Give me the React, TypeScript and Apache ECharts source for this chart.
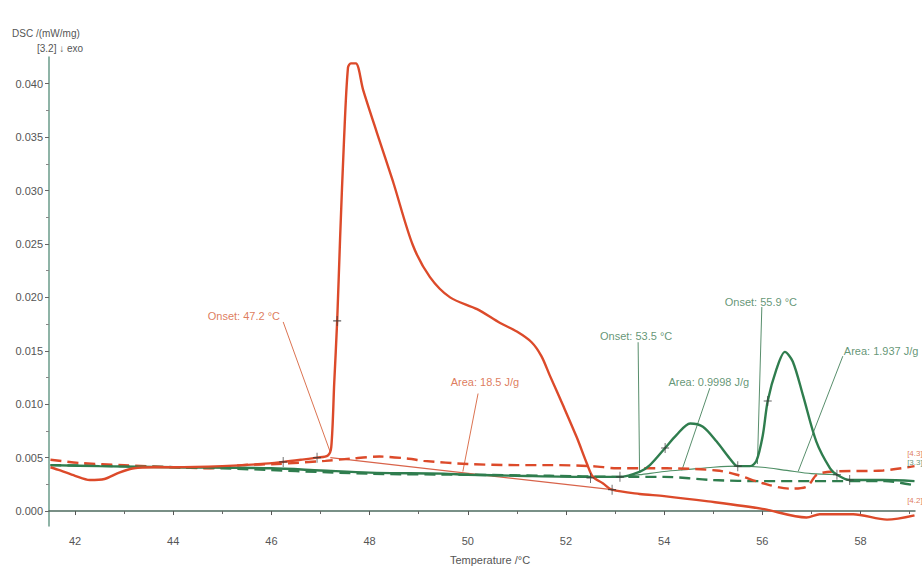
import React, { useEffect, useRef } from "react";
import * as echarts from "echarts";

// Temperature axis ticks (°C)
const tempMajor = [42, 44, 46, 48, 50, 52, 54, 56, 58];
const tempMinor = [43, 45, 47, 49, 51, 53, 55, 57, 59];
// DSC axis ticks (mW/mg)
const dscMajor = [0, 0.005, 0.01, 0.015, 0.02, 0.025, 0.03, 0.035, 0.04];
const dscMinor = [0.0025, 0.0075, 0.0125, 0.0175, 0.0225, 0.0275, 0.0325, 0.0375];

// Sample A, heating (solid red)
const redSolid: [number, number][] = [
  [41.5, 0.0041], [41.7, 0.0038], [42.0, 0.0033], [42.3, 0.0029], [42.6, 0.003], [42.9, 0.0036],
  [43.2, 0.004], [43.6, 0.0041], [44.0, 0.0041], [45.0, 0.0042], [45.8, 0.0044], [46.24, 0.0046],
  [46.6, 0.0048], [46.93, 0.005], [47.15, 0.0052], [47.22, 0.006], [47.28, 0.012], [47.34, 0.0178],
  [47.4, 0.0256], [47.48, 0.0348], [47.56, 0.0415], [47.62, 0.0419], [47.72, 0.0419], [47.87, 0.0394],
  [48.15, 0.0354], [48.48, 0.0308], [48.88, 0.0249], [49.23, 0.0219], [49.64, 0.02], [50.19, 0.0189],
  [50.66, 0.0176], [51.0, 0.0168], [51.3, 0.0158], [51.5, 0.0145], [51.67, 0.0127], [51.94, 0.0099],
  [52.22, 0.0069], [52.43, 0.0044], [52.55, 0.0032], [52.75, 0.0026], [52.94, 0.002], [53.5, 0.0016],
  [54.0, 0.0014], [54.9, 0.0009], [56.0, 0.0002], [56.9, -0.0006], [57.17, -0.0003], [57.85, -0.0003],
  [58.54, -0.0008], [59.1, -0.0004],
];

// Sample A, second run (dashed red)
const redDashed: [number, number][] = [
  [41.5, 0.0048], [42.1, 0.0045], [43.0, 0.0043], [44.0, 0.0041], [44.7, 0.004], [45.4, 0.0043],
  [46.1, 0.0044], [47.1, 0.0047], [47.6, 0.0049], [48.2, 0.0051], [48.8, 0.0049], [49.1, 0.0047],
  [50.0, 0.0044], [51.0, 0.0043], [51.67, 0.0043], [52.55, 0.0042], [53.04, 0.004], [54.06, 0.004],
  [55.07, 0.0038], [55.48, 0.0034], [56.01, 0.0026], [56.56, 0.0021], [56.91, 0.0023], [57.11, 0.0034],
  [57.44, 0.0037], [58.46, 0.0038], [59.1, 0.0042],
];

// Sample B, heating (solid green)
const greenSolid: [number, number][] = [
  [41.5, 0.0043], [42.5, 0.0042], [44.0, 0.0041], [46.0, 0.004], [47.0, 0.0038], [48.0, 0.0036],
  [49.5, 0.0035], [50.0, 0.0034], [51.0, 0.0033], [52.5, 0.0032], [53.1, 0.0032], [53.51, 0.0037],
  [53.71, 0.0043], [54.02, 0.0059], [54.25, 0.0071], [54.53, 0.0082], [54.79, 0.0079], [55.07, 0.0065],
  [55.34, 0.0049], [55.5, 0.0042], [55.75, 0.0042], [55.88, 0.0047], [56.01, 0.0071], [56.11, 0.0103],
  [56.29, 0.0133], [56.46, 0.0149], [56.62, 0.014], [56.83, 0.0108], [57.1, 0.0065], [57.38, 0.004],
  [57.52, 0.0034], [57.78, 0.0029], [58.46, 0.0029], [59.1, 0.0028],
];

// Sample B, second run (dashed green)
const greenDashed: [number, number][] = [
  [41.5, 0.0043], [43.0, 0.0042], [45.0, 0.004], [48.0, 0.0035], [50.0, 0.0034], [51.67, 0.0033],
  [53.0, 0.0032], [54.0, 0.0032], [55.0, 0.0029], [56.0, 0.0028], [57.0, 0.0028], [58.5, 0.0028],
  [59.1, 0.0024],
];

// Integration baselines
const redBaseline: [number, number][] = [[47.2, 0.005], [52.94, 0.002]];
const greenBaseline: [number, number][] = [
  [53.1, 0.0032], [53.5, 0.0034], [54.0, 0.0037], [54.5, 0.0039], [55.0, 0.0041], [55.5, 0.0042],
  [56.0, 0.0041], [56.5, 0.0038], [57.0, 0.0035], [57.52, 0.0034],
];

// Evaluation markers placed on the curves
const redMarks: [number, number][] = [[46.24, 0.0046], [46.93, 0.005], [47.34, 0.0178], [52.5, 0.0031], [52.94, 0.002]];
const greenMarks: [number, number][] = [
  [53.1, 0.0032], [54.02, 0.0059], [55.5, 0.0042], [56.11, 0.0103], [57.52, 0.0034], [57.78, 0.0029],
];

const RED = "#dc4a2a";
const GREEN = "#2f7d4e";
const RED_TEXT = "#d55a32";
const GREEN_TEXT = "#3b7a52";

// Result annotations: text anchor, leader start and leader end in data space
const annotations = [
  { text: "Onset: 47.2 °C", color: RED_TEXT, at: [45.44, 0.0183], from: [46.24, 0.0177], to: [47.2, 0.0055] },
  { text: "Area: 18.5 J/g", color: RED_TEXT, at: [50.35, 0.0121], from: [50.21, 0.011], to: [49.9, 0.0037] },
  { text: "Onset: 53.5 °C", color: GREEN_TEXT, at: [53.43, 0.0164], from: [53.47, 0.0158], to: [53.5, 0.0036] },
  { text: "Area: 0.9998 J/g", color: GREEN_TEXT, at: [54.91, 0.0121], from: [54.93, 0.0115], to: [54.36, 0.0038] },
  { text: "Onset: 55.9 °C", color: GREEN_TEXT, at: [55.97, 0.0196], from: [55.99, 0.0191], to: [55.9, 0.0044] },
  { text: "Area: 1.937 J/g", color: GREEN_TEXT, at: [58.42, 0.015], from: [57.64, 0.0145], to: [56.73, 0.0037] },
];

// Curve end tags
const endTags = [
  { text: "[4.3]", color: RED_TEXT, at: [58.95, 0.0054] },
  { text: "[3.3]", color: GREEN_TEXT, at: [58.95, 0.0045] },
  { text: "[4.2]", color: RED_TEXT, at: [58.95, 0.001] },
];

const FONT = "'Liberation Sans Narrow', 'Liberation Sans', sans-serif";
const CROSS = "path://M4,0h1v9h-1zM0,4h9v1h-9z";

export default function App() {
  const ref = useRef<HTMLDivElement>(null);

  useEffect(() => {
    if (!ref.current) return;
    document.body.style.margin = "0";
    const chart = echarts.init(ref.current, null, { renderer: "svg" });

    const curve = (data: [number, number][], color: string, dashed: boolean, width = 2.4) => ({
      type: "line",
      data,
      showSymbol: false,
      symbol: "none",
      smooth: 0.3,
      silent: true,
      lineStyle: { color, width, type: dashed ? [11, 6] : "solid" },
      z: 3,
    });

    const leaderSeries = annotations.map((a) => ({
      type: "line",
      data: [a.from, a.to],
      symbol: "none",
      silent: true,
      lineStyle: { color: a.color, width: 1, opacity: 0.85 },
      z: 2,
    }));

    const option: any = {
      animation: false,
      backgroundColor: "#ffffff",
      grid: { left: 49, right: 7, top: 57, bottom: 42 },
      xAxis: [
        {
          type: "value",
          min: 41.47,
          max: 59.11,
          name: "Temperature /°C",
          nameLocation: "middle",
          nameGap: 28,
          nameTextStyle: { fontFamily: FONT, fontSize: 11, color: "#555", padding: [0, 0, 0, 16] },
          axisLine: { show: true, lineStyle: { color: "#4d6b5f", width: 1.5 } },
          axisTick: { show: true, length: 4, customValues: tempMajor, lineStyle: { color: "#555" } },
          axisLabel: { customValues: tempMajor, fontFamily: FONT, fontSize: 11, color: "#555", margin: 9 },
          splitLine: { show: false },
        },
        {
          type: "value",
          min: 41.47,
          max: 59.11,
          position: "bottom",
          axisLine: { show: false },
          axisTick: { show: true, length: 3, customValues: tempMinor, lineStyle: { color: "#666" } },
          axisLabel: { show: false },
          splitLine: { show: false },
        },
      ],
      yAxis: [
        {
          type: "value",
          min: -0.0014,
          max: 0.0425,
          axisLine: { show: true, lineStyle: { color: "#6a9b8a", width: 1.5 } },
          axisTick: { show: true, length: 4, customValues: dscMajor, lineStyle: { color: "#666" } },
          axisLabel: {
            customValues: dscMajor,
            formatter: (v: number) => v.toFixed(3),
            fontFamily: FONT,
            fontSize: 11,
            color: "#555",
            margin: 6,
          },
          splitLine: { show: false },
        },
        {
          type: "value",
          min: -0.0014,
          max: 0.0425,
          position: "left",
          axisLine: { show: false },
          axisTick: { show: true, length: 3, customValues: dscMinor, lineStyle: { color: "#888" } },
          axisLabel: { show: false },
          splitLine: { show: false },
        },
      ],
      graphic: [
        {
          type: "text",
          left: 12,
          top: 28,
          style: { text: "DSC /(mW/mg)", font: `10px ${FONT}`, fill: "#555" },
        },
        {
          type: "text",
          left: 37,
          top: 43,
          style: { text: "[3.2] ↓ exo", font: `10px ${FONT}`, fill: "#555" },
        },
      ],
      series: [
        curve(redBaseline, "#d8634a", false, 1.2),
        curve(greenBaseline, "#4f8f66", false, 1.2),
        curve(greenDashed, GREEN, true),
        curve(redDashed, RED, true),
        curve(greenSolid, GREEN, false),
        curve(redSolid, RED, false),
        ...leaderSeries,
        {
          type: "scatter",
          data: [...redMarks, ...greenMarks],
          symbol: CROSS,
          symbolSize: [8, 10],
          silent: true,
          itemStyle: { color: "#3a3a3a" },
          z: 5,
        },
        {
          type: "scatter",
          data: annotations.map((a) => ({
            value: a.at,
            label: { formatter: a.text, color: a.color },
          })),
          symbolSize: 0,
          silent: true,
          label: {
            show: true,
            position: [0, 0],
            align: "center",
            verticalAlign: "middle",
            fontFamily: FONT,
            fontSize: 11,
          },
          z: 6,
        },
        {
          type: "scatter",
          data: endTags.map((t) => ({
            value: t.at,
            label: { formatter: t.text, color: t.color },
          })),
          symbolSize: 0,
          silent: true,
          clip: false,
          label: {
            show: true,
            position: [0, 0],
            align: "left",
            verticalAlign: "middle",
            fontFamily: FONT,
            fontSize: 8,
          },
          z: 6,
        },
      ],
    };

    chart.setOption(option);
    return () => chart.dispose();
  }, []);

  return <div ref={ref} style={{ width: 922, height: 570 }} />;
}
